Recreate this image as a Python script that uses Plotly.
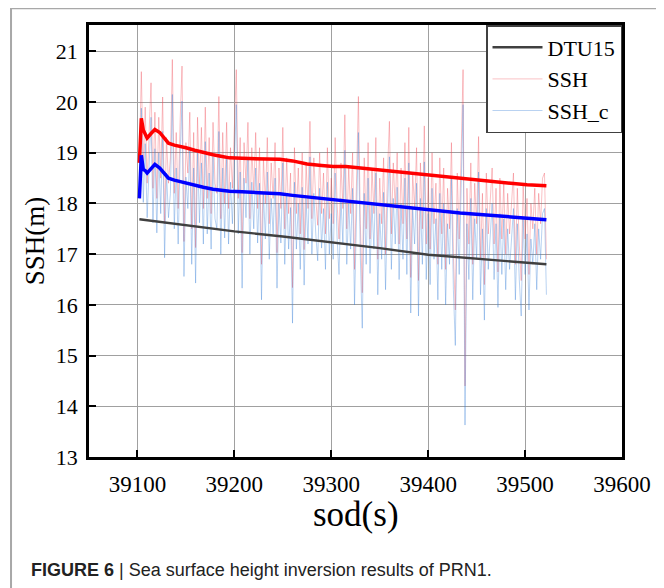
import plotly.graph_objects as go

# ---------------- data ----------------
SOD = list(range(39102, 39523, 2))  # sampling epochs, seconds of day

SSH = [
    18.80, 20.60, 18.70, 19.90, 18.40, 19.60, 20.38, 18.30, 19.80, 18.10,
    19.70, 18.50, 20.10, 17.60, 19.30, 18.40, 18.90, 20.84, 18.20, 19.40,
    17.90, 19.60, 20.71, 17.25, 19.20, 18.60, 19.80, 17.50, 19.40, 17.13,
    19.70, 18.30, 19.50, 17.90, 19.90, 18.10, 19.30, 17.80, 19.60, 18.40,
    18.20, 20.11, 17.70, 19.40, 18.00, 19.60, 17.90, 19.10, 18.30, 19.50,
    20.64, 18.10, 19.30, 17.03, 19.20, 18.40, 19.60, 17.70, 19.10, 18.20,
    19.40, 17.90, 19.10, 16.80, 18.90, 18.00, 19.30, 17.60, 18.80, 18.10,
    19.20, 17.03, 18.70, 17.90, 19.50, 17.50, 18.90, 17.80, 18.60, 16.34,
    19.10, 17.80, 18.70, 17.40, 19.00, 17.09, 18.80, 17.90, 19.62, 17.70,
    18.90, 18.10, 17.57, 19.00, 17.80, 18.60, 17.40, 19.10, 17.70, 18.50,
    17.60, 19.30, 18.00, 17.30, 18.80, 17.90, 19.75, 17.50, 18.70, 17.80,
    19.00, 16.70, 18.60, 20.11, 17.60, 16.24, 18.90, 17.50, 19.20, 17.30,
    18.70, 17.80, 19.30, 16.90, 18.50, 17.60, 18.90, 17.00, 18.60, 19.62,
    17.40, 18.80, 17.90, 19.00, 17.20, 18.70, 17.60, 19.20, 17.30, 19.50,
    16.54, 18.60, 17.90, 19.10, 16.48, 18.80, 17.50, 19.53, 17.20, 18.50,
    17.10, 19.00, 17.60, 18.40, 16.80, 18.90, 17.40, 18.70, 16.70, 18.30,
    17.50, 19.20, 17.00, 15.90, 18.60, 17.30, 19.00, 20.64, 14.40, 18.30,
    17.20, 18.80, 16.80, 18.40, 17.60, 19.32, 16.90, 18.20, 16.40, 18.60,
    17.40, 18.10, 18.70, 17.20, 18.30, 16.65, 18.50, 17.30, 18.40, 17.00,
    18.20, 17.40, 18.00, 18.60, 16.80, 18.30, 17.20, 16.48, 18.40, 17.30,
    18.10, 16.60, 18.00, 17.50, 18.30, 17.00, 18.20, 17.60, 18.50, 18.60,
    16.90,
]

SSH_C = [
    18.10, 19.88, 18.02, 19.18, 17.72, 18.88, 19.70, 17.62, 19.08, 17.42,
    19.00, 17.80, 19.42, 16.93, 18.60, 17.72, 18.20, 20.15, 17.50, 18.70,
    17.20, 18.90, 20.02, 16.56, 18.52, 17.90, 19.12, 16.80, 18.70, 16.43,
    19.00, 17.62, 18.80, 17.20, 19.22, 17.40, 18.60, 17.10, 18.92, 17.70,
    17.50, 19.42, 17.00, 18.70, 17.32, 18.90, 17.20, 18.42, 17.60, 18.80,
    19.95, 17.40, 18.62, 16.33, 18.50, 17.72, 18.90, 17.00, 18.42, 17.50,
    18.70, 17.22, 18.40, 16.10, 18.20, 17.30, 18.62, 16.90, 18.10, 17.40,
    18.50, 16.33, 18.00, 17.22, 18.80, 16.80, 18.20, 17.10, 17.92, 15.64,
    18.42, 17.10, 18.00, 16.70, 18.32, 16.39, 18.10, 17.20, 18.92, 17.00,
    18.20, 17.40, 16.87, 18.30, 17.12, 17.90, 16.70, 18.42, 17.00, 17.80,
    16.90, 18.60, 17.32, 16.60, 18.10, 17.20, 19.05, 16.80, 18.00, 17.10,
    18.30, 16.00, 17.90, 19.40, 16.92, 15.54, 18.20, 16.80, 18.50, 16.62,
    18.00, 17.10, 18.60, 16.20, 17.80, 16.90, 18.22, 16.30, 17.90, 18.92,
    16.70, 18.10, 17.20, 18.32, 16.50, 18.00, 16.90, 18.50, 16.60, 18.80,
    15.84, 17.90, 17.20, 18.40, 15.78, 18.10, 16.80, 18.82, 16.50, 17.80,
    16.40, 18.30, 16.90, 17.70, 16.10, 18.20, 16.70, 18.00, 16.00, 17.60,
    16.80, 18.50, 16.30, 15.20, 17.90, 16.60, 18.30, 19.95, 13.63, 17.60,
    16.50, 18.10, 16.10, 17.70, 16.90, 18.62, 16.20, 17.50, 15.70, 17.90,
    16.70, 17.40, 18.00, 16.50, 17.60, 15.95, 17.80, 16.60, 17.70, 16.30,
    17.50, 16.70, 17.30, 17.90, 16.10, 17.60, 16.50, 15.78, 17.70, 16.60,
    17.40, 15.90, 17.30, 16.80, 17.60, 16.30, 17.50, 16.90, 17.80, 17.90,
    16.20,
]

MEAN_SOD = [39102, 39104, 39106, 39108, 39110, 39114, 39118, 39123, 39128, 39132,
            39138, 39144, 39150, 39159, 39168, 39178, 39186, 39195, 39208, 39220,
            39235, 39247, 39260, 39275, 39290, 39302, 39315, 39330, 39350, 39364,
            39380, 39398, 39415, 39433, 39450, 39467, 39485, 39502, 39522]
SSH_MEAN = [18.80, 19.68, 19.45, 19.35, 19.29, 19.38, 19.46, 19.40, 19.28, 19.19,
            19.15, 19.13, 19.10, 19.05, 19.00, 18.96, 18.93, 18.90, 18.89, 18.88,
            18.88, 18.87, 18.84, 18.78, 18.75, 18.73, 18.73, 18.70, 18.67, 18.63,
            18.60, 18.57, 18.54, 18.50, 18.47, 18.43, 18.40, 18.37, 18.35]
SSH_C_MEAN = [18.10, 18.95, 18.67, 18.65, 18.60, 18.68, 18.77, 18.70, 18.58, 18.50,
              18.46, 18.43, 18.40, 18.37, 18.32, 18.28, 18.26, 18.24, 18.23, 18.22,
              18.21, 18.19, 18.16, 18.13, 18.10, 18.07, 18.05, 18.02, 17.98, 17.94,
              17.91, 17.88, 17.85, 17.81, 17.79, 17.76, 17.73, 17.70, 17.68]

DTU_SOD = [39102, 39150, 39200, 39250, 39300, 39350, 39400, 39450, 39522]
DTU15 = [17.69, 17.57, 17.45, 17.35, 17.24, 17.12, 16.99, 16.91, 16.80]

X_TICKS = [39100, 39200, 39300, 39400, 39500, 39600]
Y_TICKS = [13, 14, 15, 16, 17, 18, 19, 20, 21]

# ---------------- figure ----------------
SERIF = "Liberation Serif"
fig = go.Figure()

fig.add_trace(go.Scatter(x=SOD, y=SSH, mode="lines", name="SSH",
                         line=dict(color="rgba(240,70,80,0.42)", width=0.8),
                         legendrank=2))
fig.add_trace(go.Scatter(x=SOD, y=SSH_C, mode="lines", name="SSH_c",
                         line=dict(color="rgba(60,130,215,0.45)", width=0.8),
                         legendrank=3))
fig.add_trace(go.Scatter(x=MEAN_SOD, y=SSH_MEAN, mode="lines", showlegend=False,
                         line=dict(color="#ff0000", width=3.5)))
fig.add_trace(go.Scatter(x=MEAN_SOD, y=SSH_C_MEAN, mode="lines", showlegend=False,
                         line=dict(color="#0000ff", width=3.5)))
fig.add_trace(go.Scatter(x=DTU_SOD, y=DTU15, mode="lines", name="DTU15",
                         line=dict(color="#404040", width=2.4), legendrank=1))

# outer grey frame of the figure panel
fig.add_shape(type="rect", xref="paper", yref="paper",
              x0=-0.1463, x1=1.0675, y0=-0.34, y1=1.039,
              line=dict(color="#a8a8a8", width=2), layer="below")

# x-axis title (placed to match the reference spacing)
fig.add_annotation(xref="paper", yref="paper", x=0.5, y=-0.1335,
                   xanchor="center", yanchor="middle", showarrow=False,
                   text="sod(s)", font=dict(family=SERIF, size=35, color="black"))

fig.add_annotation(xref="paper", yref="paper", x=-0.113, y=-0.262,
                   xanchor="left", yanchor="middle", showarrow=False,
                   text="<b>FIGURE 6</b> | Sea surface height inversion results of PRN1.",
                   font=dict(family="Liberation Sans", size=18, color="#222222"))

fig.update_layout(
    width=656, height=580,
    margin=dict(l=81, r=42, t=17, b=131),
    paper_bgcolor="white", plot_bgcolor="white",
    font=dict(family=SERIF, color="black"),
    showlegend=True,
    legend=dict(x=1, y=1, xanchor="right", yanchor="top",
                bgcolor="white", bordercolor="#404040", borderwidth=1.5,
                font=dict(family=SERIF, size=22, color="black"),
                itemwidth=50, tracegroupgap=0),
    xaxis=dict(range=[39050, 39600], tickvals=X_TICKS, tickformat="d",
               ticks="inside", ticklen=7,
               tickwidth=2, tickcolor="black", showline=True, linecolor="black",
               linewidth=2.5, mirror=True, showgrid=True, gridcolor="#a0a0a0",
               gridwidth=1, zeroline=False,
               tickfont=dict(family=SERIF, size=23, color="black"),
               ticklabelstandoff=5),
    yaxis=dict(range=[13, 21.52], tickvals=Y_TICKS, ticks="inside", ticklen=7,
               tickwidth=2, tickcolor="black", showline=True, linecolor="black",
               linewidth=2.5, mirror=True, showgrid=True, gridcolor="#a0a0a0",
               gridwidth=1, zeroline=False,
               tickfont=dict(family=SERIF, size=22, color="black"),
               ticklabelstandoff=4,
               title=dict(text="SSH(m)", font=dict(family=SERIF, size=27), standoff=4)),
)

fig.write_html("out.html")
